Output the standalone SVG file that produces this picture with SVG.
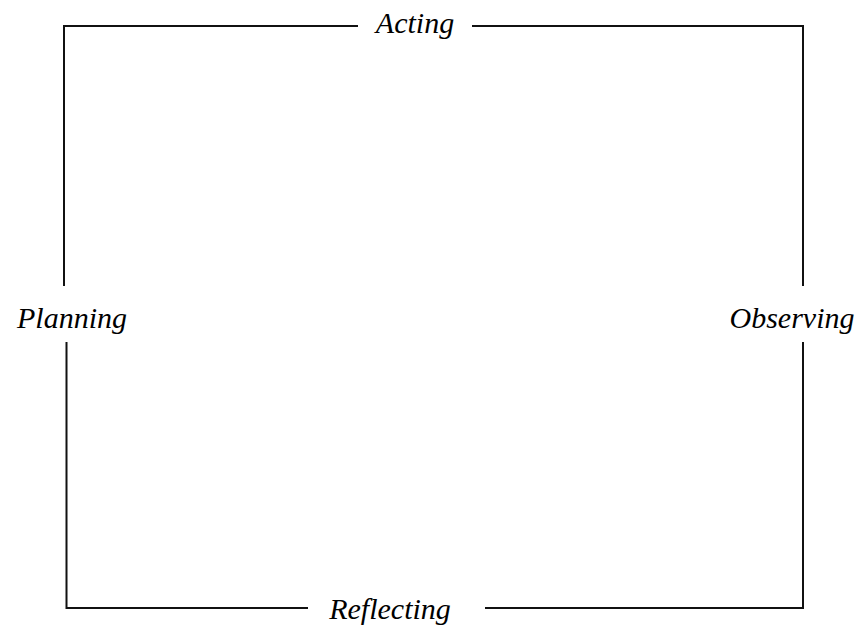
<svg xmlns="http://www.w3.org/2000/svg" width="861" height="628" viewBox="0 0 861 628">
<style>
.ln{stroke:#111;stroke-width:2;fill:none}
.lb{font-family:"Liberation Serif",serif;font-style:italic;font-size:30px;fill:#000}
</style>
<rect width="861" height="628" fill="#fff"/>
<g id="connectors">
<path class="ln" d="M358,26 H64 V286"/>
<path class="ln" d="M472,26 H803 V286"/>
<path class="ln" d="M66.5,342 V608 H308"/>
<path class="ln" d="M803,342 V608 H485"/>
</g>
<g id="acting"><text class="lb" x="415" y="33" text-anchor="middle">Acting</text></g>
<g id="planning"><text class="lb" x="72" y="328" text-anchor="middle">Planning</text></g>
<g id="observing"><text class="lb" x="792" y="328" text-anchor="middle">Observing</text></g>
<g id="reflecting"><text class="lb" x="390" y="619" text-anchor="middle">Reflecting</text></g>
</svg>
